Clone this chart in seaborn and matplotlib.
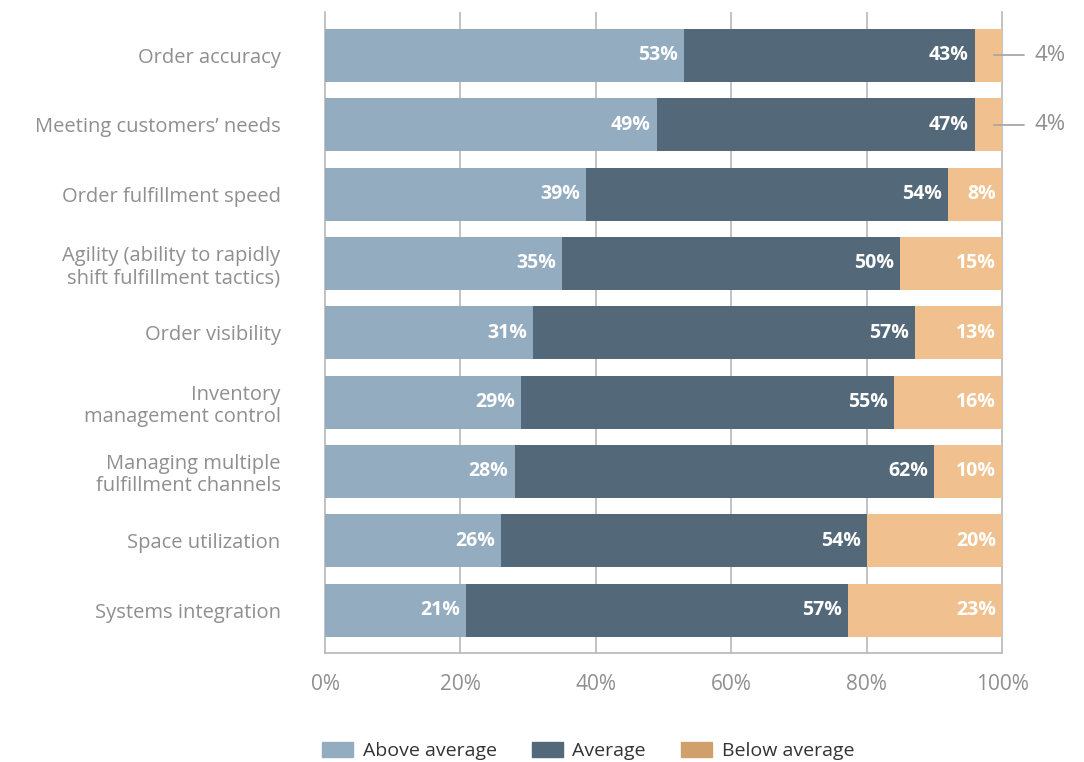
import matplotlib
matplotlib.use("Agg")
import matplotlib.pyplot as plt
from matplotlib.patches import Patch
import seaborn as sns
import pandas as pd
import numpy as np

categories = [
    "Order accuracy",
    "Meeting customers’ needs",
    "Order fulfillment speed",
    "Agility (ability to rapidly\nshift fulfillment tactics)",
    "Order visibility",
    "Inventory\nmanagement control",
    "Managing multiple\nfulfillment channels",
    "Space utilization",
    "Systems integration",
]
above = [53, 49, 39, 35, 31, 29, 28, 26, 21]
average = [43, 47, 54, 50, 57, 55, 62, 54, 57]
below = [4, 4, 8, 15, 13, 16, 10, 20, 23]
series_names = ["Above average", "Average", "Below average"]
x_ticks = [0, 20, 40, 60, 80, 100]

c_above = "#94acc0"
c_avg = "#536879"
c_below = "#f0c18f"
c_below_legend = "#d09f6b"
grey_txt = "#8f8f8f"
line_col = "#b8b8b8"

sns.set_theme(style="white")
plt.rcParams["font.family"] = ["Open Sans", "DejaVu Sans"]

df = pd.DataFrame({"cat": categories, "above": above, "avg": average, "below": below})
tot = df[["above", "avg", "below"]].sum(axis=1)
df["p_above"] = df["above"] / tot * 100
df["p_avg"] = df["avg"] / tot * 100
df["p_below"] = df["below"] / tot * 100
df["c1"] = df["p_above"]
df["c2"] = df["p_above"] + df["p_avg"]
df["c3"] = df["c2"] + df["p_below"]

fig = plt.figure(figsize=(10.84, 7.62), dpi=100)
ax = fig.add_axes([325 / 1084, 1 - 653 / 762, (1002 - 325) / 1084, (653 - 12) / 762])

for col, color in [("c3", c_below), ("c2", c_avg), ("c1", c_above)]:
    sns.barplot(data=df, x=col, y="cat", color=color, orient="h", width=0.764,
                ax=ax, saturation=1, zorder=3, linewidth=0)

ax.set_xlim(0, 100)
ax.set_ylim(8.62, -0.627)
ax.set_xlabel("")
ax.set_ylabel("")
ax.set_xticks(x_ticks)
ax.set_xticklabels([f"{t}%" for t in x_ticks], color=grey_txt, fontsize=15)
ax.tick_params(axis="x", length=0, pad=15)
ax.tick_params(axis="y", length=0, pad=32)
for lbl in ax.get_yticklabels():
    lbl.set_color(grey_txt)
    lbl.set_fontsize(14.5)
    lbl.set_horizontalalignment("right")
    lbl.set_multialignment("right")
    lbl.set_linespacing(1.15)

for t in [20, 40, 60, 80]:
    ax.axvline(t, color=line_col, lw=1.2, zorder=1)
ax.spines["top"].set_visible(False)
for s in ["left", "right", "bottom"]:
    ax.spines[s].set_color(line_col)
    ax.spines[s].set_linewidth(1.2)
    ax.spines[s].set_zorder(0.5)

pad = 0.9
lab_kw = dict(ha="right", va="center", color="white", fontweight="bold", fontsize=14, zorder=5)
for i, r in df.iterrows():
    ax.text(r["c1"] - pad, i, f"{r['above']}%", **lab_kw)
    ax.text(r["c2"] - pad, i, f"{r['avg']}%", **lab_kw)
    if r["below"] >= 6:
        ax.text(r["c3"] - pad, i, f"{r['below']}%", **lab_kw)
    else:
        ax.plot([98.8, 103.3], [i, i], color="#a8a8a8", lw=1.3, clip_on=False, zorder=10)
        ax.text(104.8, i, f"{r['below']}%", ha="left", va="center",
                color=grey_txt, fontsize=16, clip_on=False)

handles = [Patch(color=c_above), Patch(color=c_avg), Patch(color=c_below_legend)]
fig.legend(handles, series_names, loc="center", bbox_to_anchor=(588 / 1084, 1 - 751 / 762),
           ncol=3, frameon=False, fontsize=14, handlelength=1.6, handleheight=0.8,
           columnspacing=1.8, handletextpad=0.5, labelcolor="#333333")

fig.savefig("out.png", dpi=100)
